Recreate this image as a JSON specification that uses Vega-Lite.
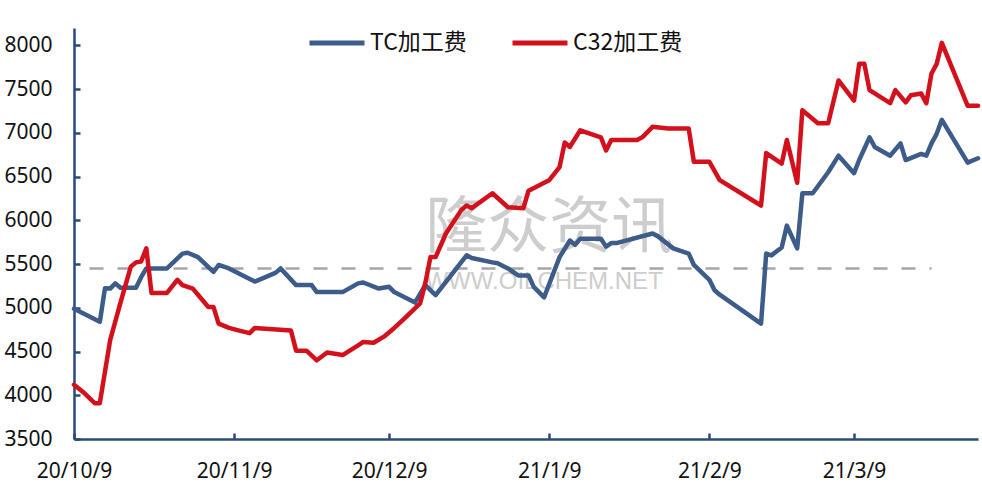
{
  "$schema": "https://vega.github.io/schema/vega-lite/v6.json",
  "width": 904,
  "height": 411,
  "autosize": "none",
  "padding": {"left": 74, "top": 28, "right": 4, "bottom": 53},
  "background": "white",
  "config": {"view": {"stroke": null}, "font": "Noto Sans"},
  "datasets": {
    "wm1": [{"date": "2021/01/09", "value": 5900, "label": "隆众资讯"}],
    "wm2": [{"date": "2021/01/08", "value": 5290, "label": "WWW.OILCHEM.NET"}],
    "ref": [{"date": "2020/10/12", "value": 5450}, {"date": "2021/03/24", "value": 5450}],
    "fees": [
      {"series": "TC加工费", "date": "2020/10/09", "value": 4990},
      {"series": "TC加工费", "date": "2020/10/14", "value": 4840},
      {"series": "TC加工费", "date": "2020/10/15", "value": 5225},
      {"series": "TC加工费", "date": "2020/10/16", "value": 5220},
      {"series": "TC加工费", "date": "2020/10/17", "value": 5280},
      {"series": "TC加工费", "date": "2020/10/18", "value": 5230},
      {"series": "TC加工费", "date": "2020/10/21", "value": 5230},
      {"series": "TC加工费", "date": "2020/10/22", "value": 5350},
      {"series": "TC加工费", "date": "2020/10/23", "value": 5450},
      {"series": "TC加工费", "date": "2020/10/27", "value": 5450},
      {"series": "TC加工费", "date": "2020/10/30", "value": 5620},
      {"series": "TC加工费", "date": "2020/10/31", "value": 5630},
      {"series": "TC加工费", "date": "2020/11/02", "value": 5580},
      {"series": "TC加工费", "date": "2020/11/05", "value": 5410},
      {"series": "TC加工费", "date": "2020/11/06", "value": 5490},
      {"series": "TC加工费", "date": "2020/11/08", "value": 5450},
      {"series": "TC加工费", "date": "2020/11/10", "value": 5390},
      {"series": "TC加工费", "date": "2020/11/13", "value": 5300},
      {"series": "TC加工费", "date": "2020/11/17", "value": 5400},
      {"series": "TC加工费", "date": "2020/11/18", "value": 5450},
      {"series": "TC加工费", "date": "2020/11/21", "value": 5260},
      {"series": "TC加工费", "date": "2020/11/24", "value": 5260},
      {"series": "TC加工费", "date": "2020/11/25", "value": 5180},
      {"series": "TC加工费", "date": "2020/11/30", "value": 5180},
      {"series": "TC加工费", "date": "2020/12/03", "value": 5280},
      {"series": "TC加工费", "date": "2020/12/04", "value": 5290},
      {"series": "TC加工费", "date": "2020/12/07", "value": 5220},
      {"series": "TC加工费", "date": "2020/12/09", "value": 5240},
      {"series": "TC加工费", "date": "2020/12/10", "value": 5180},
      {"series": "TC加工费", "date": "2020/12/14", "value": 5060},
      {"series": "TC加工费", "date": "2020/12/16", "value": 5260},
      {"series": "TC加工费", "date": "2020/12/18", "value": 5145},
      {"series": "TC加工费", "date": "2020/12/24", "value": 5600},
      {"series": "TC加工费", "date": "2020/12/25", "value": 5570},
      {"series": "TC加工费", "date": "2020/12/29", "value": 5520},
      {"series": "TC加工费", "date": "2020/12/30", "value": 5510},
      {"series": "TC加工费", "date": "2021/01/01", "value": 5450},
      {"series": "TC加工费", "date": "2021/01/03", "value": 5370},
      {"series": "TC加工费", "date": "2021/01/05", "value": 5370},
      {"series": "TC加工费", "date": "2021/01/06", "value": 5240},
      {"series": "TC加工费", "date": "2021/01/08", "value": 5120},
      {"series": "TC加工费", "date": "2021/01/11", "value": 5580},
      {"series": "TC加工费", "date": "2021/01/13", "value": 5770},
      {"series": "TC加工费", "date": "2021/01/14", "value": 5720},
      {"series": "TC加工费", "date": "2021/01/15", "value": 5790},
      {"series": "TC加工费", "date": "2021/01/19", "value": 5790},
      {"series": "TC加工费", "date": "2021/01/20", "value": 5700},
      {"series": "TC加工费", "date": "2021/01/21", "value": 5740},
      {"series": "TC加工费", "date": "2021/01/22", "value": 5740},
      {"series": "TC加工费", "date": "2021/01/29", "value": 5850},
      {"series": "TC加工费", "date": "2021/01/30", "value": 5820},
      {"series": "TC加工费", "date": "2021/02/02", "value": 5680},
      {"series": "TC加工费", "date": "2021/02/05", "value": 5620},
      {"series": "TC加工费", "date": "2021/02/06", "value": 5490},
      {"series": "TC加工费", "date": "2021/02/09", "value": 5320},
      {"series": "TC加工费", "date": "2021/02/10", "value": 5200},
      {"series": "TC加工费", "date": "2021/02/11", "value": 5150},
      {"series": "TC加工费", "date": "2021/02/19", "value": 4820},
      {"series": "TC加工费", "date": "2021/02/20", "value": 5620},
      {"series": "TC加工费", "date": "2021/02/21", "value": 5600},
      {"series": "TC加工费", "date": "2021/02/23", "value": 5690},
      {"series": "TC加工费", "date": "2021/02/24", "value": 5940},
      {"series": "TC加工费", "date": "2021/02/26", "value": 5680},
      {"series": "TC加工费", "date": "2021/02/27", "value": 6310},
      {"series": "TC加工费", "date": "2021/03/01", "value": 6310},
      {"series": "TC加工费", "date": "2021/03/04", "value": 6550},
      {"series": "TC加工费", "date": "2021/03/06", "value": 6740},
      {"series": "TC加工费", "date": "2021/03/09", "value": 6540},
      {"series": "TC加工费", "date": "2021/03/10", "value": 6690},
      {"series": "TC加工费", "date": "2021/03/12", "value": 6950},
      {"series": "TC加工费", "date": "2021/03/13", "value": 6840},
      {"series": "TC加工费", "date": "2021/03/16", "value": 6740},
      {"series": "TC加工费", "date": "2021/03/18", "value": 6880},
      {"series": "TC加工费", "date": "2021/03/19", "value": 6690},
      {"series": "TC加工费", "date": "2021/03/22", "value": 6760},
      {"series": "TC加工费", "date": "2021/03/23", "value": 6740},
      {"series": "TC加工费", "date": "2021/03/24", "value": 6880},
      {"series": "TC加工费", "date": "2021/03/25", "value": 6990},
      {"series": "TC加工费", "date": "2021/03/26", "value": 7150},
      {"series": "TC加工费", "date": "2021/03/31", "value": 6660},
      {"series": "TC加工费", "date": "2021/04/02", "value": 6710},
      {"series": "C32加工费", "date": "2020/10/09", "value": 4120},
      {"series": "C32加工费", "date": "2020/10/11", "value": 4025},
      {"series": "C32加工费", "date": "2020/10/13", "value": 3910},
      {"series": "C32加工费", "date": "2020/10/14", "value": 3910},
      {"series": "C32加工费", "date": "2020/10/16", "value": 4630},
      {"series": "C32加工费", "date": "2020/10/18", "value": 5060},
      {"series": "C32加工费", "date": "2020/10/20", "value": 5470},
      {"series": "C32加工费", "date": "2020/10/21", "value": 5520},
      {"series": "C32加工费", "date": "2020/10/22", "value": 5530},
      {"series": "C32加工费", "date": "2020/10/23", "value": 5680},
      {"series": "C32加工费", "date": "2020/10/24", "value": 5170},
      {"series": "C32加工费", "date": "2020/10/27", "value": 5170},
      {"series": "C32加工费", "date": "2020/10/29", "value": 5320},
      {"series": "C32加工费", "date": "2020/10/30", "value": 5260},
      {"series": "C32加工费", "date": "2020/11/01", "value": 5220},
      {"series": "C32加工费", "date": "2020/11/02", "value": 5150},
      {"series": "C32加工费", "date": "2020/11/04", "value": 5010},
      {"series": "C32加工费", "date": "2020/11/05", "value": 5010},
      {"series": "C32加工费", "date": "2020/11/06", "value": 4820},
      {"series": "C32加工费", "date": "2020/11/08", "value": 4770},
      {"series": "C32加工费", "date": "2020/11/10", "value": 4740},
      {"series": "C32加工费", "date": "2020/11/12", "value": 4710},
      {"series": "C32加工费", "date": "2020/11/13", "value": 4770},
      {"series": "C32加工费", "date": "2020/11/20", "value": 4740},
      {"series": "C32加工费", "date": "2020/11/21", "value": 4510},
      {"series": "C32加工费", "date": "2020/11/23", "value": 4510},
      {"series": "C32加工费", "date": "2020/11/25", "value": 4400},
      {"series": "C32加工费", "date": "2020/11/27", "value": 4490},
      {"series": "C32加工费", "date": "2020/11/30", "value": 4460},
      {"series": "C32加工费", "date": "2020/12/03", "value": 4570},
      {"series": "C32加工费", "date": "2020/12/04", "value": 4610},
      {"series": "C32加工费", "date": "2020/12/06", "value": 4600},
      {"series": "C32加工费", "date": "2020/12/08", "value": 4670},
      {"series": "C32加工费", "date": "2020/12/10", "value": 4770},
      {"series": "C32加工费", "date": "2020/12/12", "value": 4880},
      {"series": "C32加工费", "date": "2020/12/15", "value": 5050},
      {"series": "C32加工费", "date": "2020/12/16", "value": 5280},
      {"series": "C32加工费", "date": "2020/12/17", "value": 5580},
      {"series": "C32加工费", "date": "2020/12/18", "value": 5580},
      {"series": "C32加工费", "date": "2020/12/20", "value": 5850},
      {"series": "C32加工费", "date": "2020/12/23", "value": 6120},
      {"series": "C32加工费", "date": "2020/12/24", "value": 6170},
      {"series": "C32加工费", "date": "2020/12/25", "value": 6140},
      {"series": "C32加工费", "date": "2020/12/29", "value": 6310},
      {"series": "C32加工费", "date": "2021/01/01", "value": 6150},
      {"series": "C32加工费", "date": "2021/01/04", "value": 6140},
      {"series": "C32加工费", "date": "2021/01/05", "value": 6340},
      {"series": "C32加工费", "date": "2021/01/07", "value": 6400},
      {"series": "C32加工费", "date": "2021/01/08", "value": 6430},
      {"series": "C32加工费", "date": "2021/01/09", "value": 6460},
      {"series": "C32加工费", "date": "2021/01/11", "value": 6610},
      {"series": "C32加工费", "date": "2021/01/12", "value": 6890},
      {"series": "C32加工费", "date": "2021/01/13", "value": 6840},
      {"series": "C32加工费", "date": "2021/01/15", "value": 7030},
      {"series": "C32加工费", "date": "2021/01/19", "value": 6950},
      {"series": "C32加工费", "date": "2021/01/20", "value": 6800},
      {"series": "C32加工费", "date": "2021/01/21", "value": 6920},
      {"series": "C32加工费", "date": "2021/01/26", "value": 6920},
      {"series": "C32加工费", "date": "2021/01/27", "value": 6950},
      {"series": "C32加工费", "date": "2021/01/29", "value": 7070},
      {"series": "C32加工费", "date": "2021/02/01", "value": 7050},
      {"series": "C32加工费", "date": "2021/02/05", "value": 7050},
      {"series": "C32加工费", "date": "2021/02/06", "value": 6670},
      {"series": "C32加工费", "date": "2021/02/09", "value": 6670},
      {"series": "C32加工费", "date": "2021/02/11", "value": 6460},
      {"series": "C32加工费", "date": "2021/02/19", "value": 6170},
      {"series": "C32加工费", "date": "2021/02/20", "value": 6770},
      {"series": "C32加工费", "date": "2021/02/23", "value": 6650},
      {"series": "C32加工费", "date": "2021/02/24", "value": 6920},
      {"series": "C32加工费", "date": "2021/02/26", "value": 6430},
      {"series": "C32加工费", "date": "2021/02/27", "value": 7260},
      {"series": "C32加工费", "date": "2021/03/02", "value": 7110},
      {"series": "C32加工费", "date": "2021/03/04", "value": 7110},
      {"series": "C32加工费", "date": "2021/03/06", "value": 7600},
      {"series": "C32加工费", "date": "2021/03/09", "value": 7370},
      {"series": "C32加工费", "date": "2021/03/10", "value": 7790},
      {"series": "C32加工费", "date": "2021/03/11", "value": 7790},
      {"series": "C32加工费", "date": "2021/03/12", "value": 7490},
      {"series": "C32加工费", "date": "2021/03/16", "value": 7340},
      {"series": "C32加工费", "date": "2021/03/17", "value": 7490},
      {"series": "C32加工费", "date": "2021/03/19", "value": 7350},
      {"series": "C32加工费", "date": "2021/03/20", "value": 7430},
      {"series": "C32加工费", "date": "2021/03/22", "value": 7450},
      {"series": "C32加工费", "date": "2021/03/23", "value": 7340},
      {"series": "C32加工费", "date": "2021/03/24", "value": 7680},
      {"series": "C32加工费", "date": "2021/03/25", "value": 7790},
      {"series": "C32加工费", "date": "2021/03/26", "value": 8030},
      {"series": "C32加工费", "date": "2021/03/31", "value": 7310},
      {"series": "C32加工费", "date": "2021/04/02", "value": 7310}
    ]
  },
  "encoding": {
    "x": {
      "field": "date",
      "type": "temporal",
      "scale": {"domain": [{"year": 2020, "month": 10, "date": 9}, {"year": 2021, "month": 4, "date": 2}], "nice": false},
      "axis": {
        "title": null,
        "grid": false,
        "values": [
          {"year": 2020, "month": 10, "date": 9},
          {"year": 2020, "month": 11, "date": 9},
          {"year": 2020, "month": 12, "date": 9},
          {"year": 2021, "month": 1, "date": 9},
          {"year": 2021, "month": 2, "date": 9},
          {"year": 2021, "month": 3, "date": 9}
        ],
        "format": "%y/%-m/%-d",
        "labelFont": "Noto Sans",
        "labelFontSize": 21,
        "labelColor": "#111111",
        "labelPadding": 27,
        "labelFlush": false,
        "labelOverlap": false,
        "domainColor": "#2a4a7a",
        "domainWidth": 2.5,
        "tickColor": "#2a4a7a",
        "tickWidth": 2.5,
        "tickSize": -6
      }
    },
    "y": {
      "field": "value",
      "type": "quantitative",
      "scale": {"domain": [3500, 8200], "nice": false, "zero": false},
      "axis": {
        "title": null,
        "grid": false,
        "values": [3500, 4000, 4500, 5000, 5500, 6000, 6500, 7000, 7500, 8000],
        "format": "d",
        "labelFont": "Noto Sans",
        "labelFontSize": 21,
        "labelColor": "#111111",
        "labelPadding": 28,
        "domainColor": "#2a4a7a",
        "domainWidth": 2.5,
        "tickColor": "#2a4a7a",
        "tickWidth": 2.5,
        "tickSize": -6
      }
    }
  },
  "layer": [
    {
      "data": {"name": "wm1"},
      "mark": {"type": "text", "font": "Noto Sans CJK SC", "fontSize": 62, "color": "#cdcdcd", "align": "center", "baseline": "middle"},
      "encoding": {"text": {"field": "label"}}
    },
    {
      "data": {"name": "wm2"},
      "mark": {"type": "text", "font": "Liberation Sans", "fontSize": 24, "color": "#cdcdcd", "align": "center", "baseline": "middle"},
      "encoding": {"text": {"field": "label"}}
    },
    {
      "data": {"name": "ref"},
      "mark": {"type": "line", "color": "#a6a6a6", "strokeWidth": 2.5, "strokeDash": [14, 14]},
      "encoding": {}
    },
    {
      "data": {"name": "fees"},
      "mark": {"type": "line", "strokeWidth": 4.5, "strokeJoin": "round", "strokeCap": "round"},
      "encoding": {
        "color": {
          "field": "series",
          "type": "nominal",
          "scale": {"domain": ["TC加工费", "C32加工费"], "range": ["#3d5c8a", "#d2111d"]},
          "legend": {
            "title": null,
            "orient": "none",
            "direction": "horizontal",
            "legendX": 233,
            "legendY": -15,
            "padding": 0,
            "symbolType": "stroke",
            "symbolSize": 3025,
            "symbolStrokeWidth": 5,
            "labelFont": "Noto Sans CJK SC",
            "labelFontSize": 23,
            "labelColor": "#111111",
            "labelOffset": 3,
            "columnPadding": 35
          }
        }
      }
    }
  ]
}
